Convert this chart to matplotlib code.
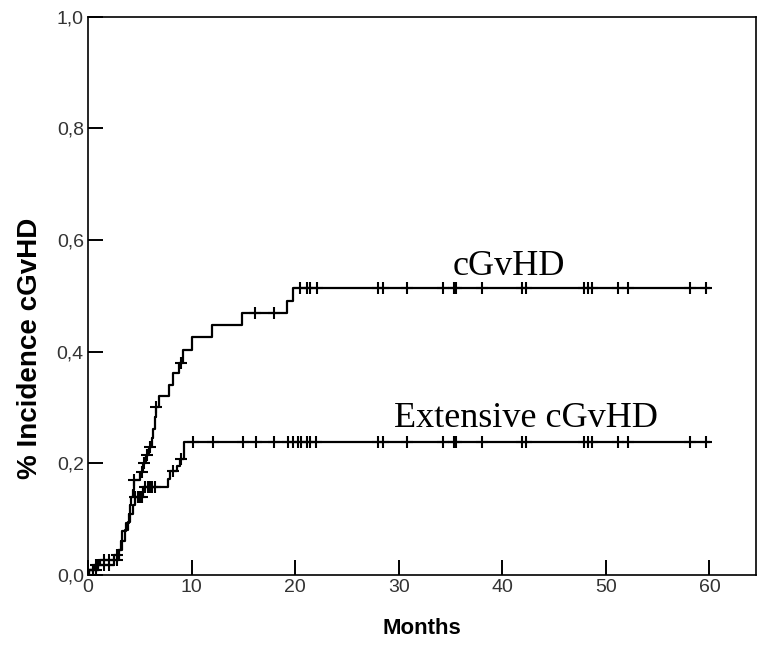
import numpy as np
import matplotlib
matplotlib.use("Agg")
import matplotlib.pyplot as plt

# cumulative incidence steps (months, value after the event)
cg_times = [0, 0.1, 0.6, 1.2, 2.5, 2.9, 3.2, 3.3, 3.7, 4.0, 4.1, 4.2, 4.3, 4.4, 5.0, 5.3, 5.6,
            5.9, 6.2, 6.3, 6.45, 6.55, 6.9, 7.8, 8.2, 8.8, 9.2, 10.0, 12.0, 14.9, 19.2, 19.8, 60]
cg_vals = [0, 0.009, 0.018, 0.027, 0.036, 0.045, 0.060, 0.078, 0.093, 0.110, 0.125, 0.140, 0.152,
           0.170, 0.185, 0.200, 0.215, 0.230, 0.245, 0.262, 0.283, 0.301, 0.320, 0.340, 0.361,
           0.379, 0.403, 0.427, 0.448, 0.470, 0.491, 0.514, 0.514]
cg_censor = [0.5, 0.8, 1.0, 1.5, 2.0, 2.8, 4.4, 5.2, 5.4, 5.7, 6.0, 6.6, 9.0, 16.1, 18.0,
             20.5, 21.15, 21.45, 22.1, 28.0, 28.5, 30.8, 34.3, 35.3, 35.5, 38.0, 41.9, 42.3,
             47.9, 48.3, 48.7, 51.2, 52.1, 58.1, 59.7]

ext_times = [0, 0.1, 1.0, 2.5, 3.0, 3.3, 3.6, 3.9, 4.1, 4.3, 4.5, 5.3, 7.7, 7.9, 8.6, 8.9, 9.3, 60]
ext_vals = [0, 0.009, 0.018, 0.027, 0.045, 0.060, 0.080, 0.095, 0.110, 0.125, 0.140, 0.158,
            0.172, 0.187, 0.196, 0.207, 0.239, 0.239]
ext_censor = [0.5, 0.8, 1.5, 2.0, 2.8, 4.5, 4.8, 5.0, 5.2, 5.5, 5.8, 6.0, 6.2, 6.5, 8.2, 9.0,
              10.1, 12.1, 15.0, 16.2, 18.0, 19.3, 19.8, 20.3, 20.6, 21.1, 21.4, 22.05,
              28.0, 28.5, 30.8, 34.3, 35.3, 35.5, 38.0, 41.9, 42.3, 47.9, 48.3, 48.7,
              51.2, 52.1, 58.1, 59.7]

x_ticks = [0, 10, 20, 30, 40, 50, 60]
y_ticks = [0.0, 0.2, 0.4, 0.6, 0.8, 1.0]

sans = ["Liberation Sans", "DejaVu Sans"]
serif = ["Liberation Serif", "DejaVu Serif"]

fig = plt.figure(figsize=(7.61, 6.46), dpi=100)
ax = fig.add_axes([88 / 761, 71 / 646, (756 - 88) / 761, (575 - 16.5) / 646])


def step_value(times, vals, t):
    i = np.searchsorted(times, t, side="right") - 1
    return np.asarray(vals)[i]


for times, vals, cens in [(cg_times, cg_vals, cg_censor), (ext_times, ext_vals, ext_censor)]:
    ax.step(times, vals, where="post", color="black", lw=1.6)
    ax.plot(cens, step_value(times, vals, cens), ls="none", marker="+",
            ms=8, mew=1.5, color="black")

ax.text(35.2, 0.537, "cGvHD", family=serif, fontsize=26, ha="left", va="baseline")
ax.text(29.5, 0.2655, "Extensive cGvHD", family=serif, fontsize=26, ha="left", va="baseline")

ax.set_xlim(0, 64.5)
ax.set_ylim(0, 1.0)
ax.set_xticks(x_ticks)
ax.set_yticks(y_ticks)
ax.set_xticklabels([str(v) for v in x_ticks], family=sans, fontsize=14, color="#333333")
ax.set_yticklabels([f"{v:.1f}".replace(".", ",") for v in y_ticks], family=sans,
                   fontsize=14, color="#333333")
ax.tick_params(direction="in", length=11, width=1.4, pad=3)
for s in ax.spines.values():
    s.set_linewidth(1.2)

ax.set_xlabel("Months", family=sans, fontsize=16, fontweight="bold", labelpad=16)
ax.set_ylabel("% Incidence cGvHD", family=sans, fontsize=20, fontweight="bold")
ax.yaxis.set_label_coords(-0.067, 0.405)

fig.savefig("out.png", dpi=100)
